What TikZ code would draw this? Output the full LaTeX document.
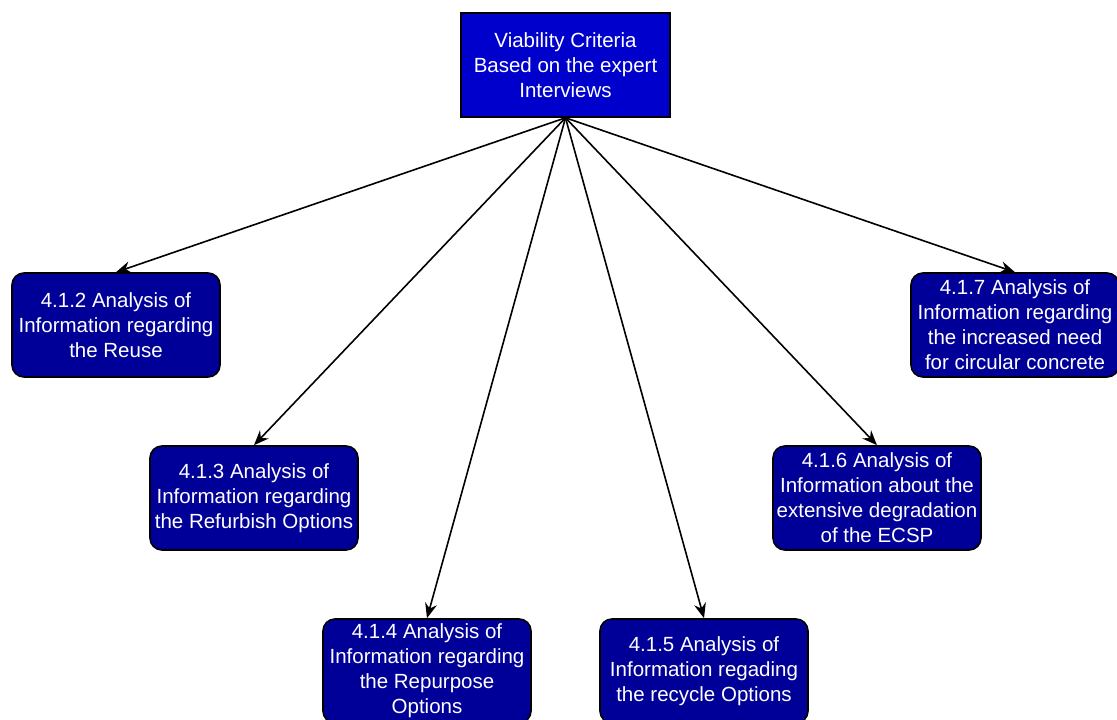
\documentclass[tikz,border=0pt]{standalone}
\usepackage{fontspec}
\setmainfont{Liberation Sans}
\usetikzlibrary{arrows.meta,positioning}
\definecolor{topblue}{HTML}{0000CC}
\definecolor{subblue}{HTML}{000099}

\begin{document}
\begin{tikzpicture}[
  x=1pt, y=-1pt,
  font=\fontsize{20.5}{25}\selectfont,
  t/.style={draw, line width=1.6pt, fill=topblue, text=white, align=center,
    minimum width=209pt, minimum height=104pt, inner sep=1pt},
  s/.style={t, fill=subblue, rounded corners=12pt, minimum width=208pt},
  pf/.style={-{Stealth[length=15pt,width=12pt,inset=5pt]}, line width=1.6pt}
]
\useasboundingbox (0,0) rectangle (1117,720);
\node[t] (top) at (565.5,65) {Viability Criteria\\Based on the expert\\Interviews};
\node[s] (reuse) at (116,325) {4.1.2 Analysis of\\Information regarding\\the Reuse};
\node[s] (refurb) at (254,498) {4.1.3 Analysis of\\Information regarding\\the Refurbish Options};
\node[s] (repurp) at (427,671) {4.1.4 Analysis of\\Information regarding\\the Repurpose\\Options};
\node[s] (recyc) at (704,671) {4.1.5 Analysis of\\Information regading\\the recycle Options};
\node[s] (degrad) at (877,498) {4.1.6 Analysis of\\Information about the\\extensive degradation\\of the ECSP};
\node[s] (need) at (1015,325) {4.1.7 Analysis of\\Information regarding\\the increased need\\for circular concrete};

\foreach \n in {reuse,refurb,repurp,recyc,degrad,need}
  \draw[pf] (top.south) -- (\n.north);
\end{tikzpicture}
\end{document}
